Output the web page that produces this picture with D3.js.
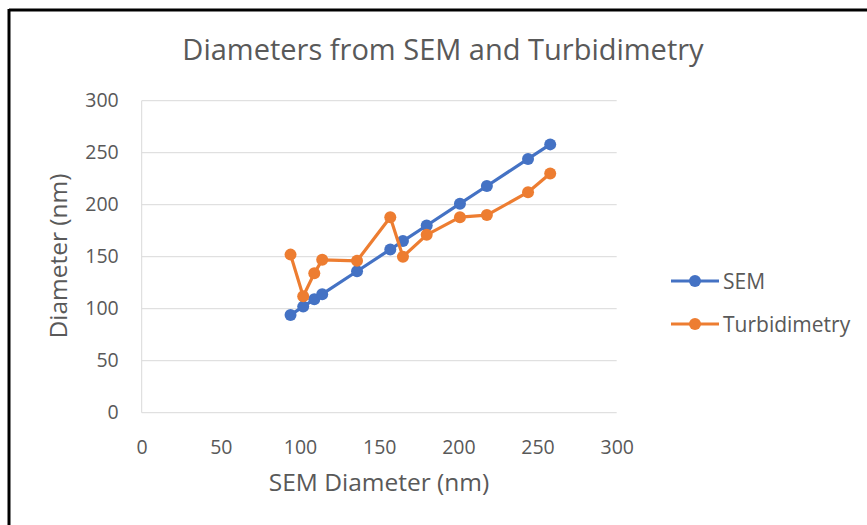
<!DOCTYPE html>
<html>
<head>
<meta charset="utf-8">
<script src="https://cdn.jsdelivr.net/npm/d3@7"></script>
<style>
  html, body { margin: 0; padding: 0; background: #fff; }
  svg { display: block; font-family: "Open Sans", Lato, sans-serif; }
</style>
</head>
<body>
<svg id="chart" width="867" height="525"></svg>
<script>
// SEM diameter (x) with the two measured diameters (nm)
const semX = [94, 102, 109, 114, 136, 157, 165, 180, 201, 218, 244, 258];
const semY = [94, 102, 109, 114, 136, 157, 165, 180, 201, 218, 244, 258];
const turbY = [152, 112, 134, 147, 146, 188, 150, 171, 188, 190, 212, 230];
const tickValues = [0, 50, 100, 150, 200, 250, 300];
const seriesNames = ["SEM", "Turbidimetry"];
const seriesColors = ["#4472C4", "#ED7D31"];

(function () {
  const svg = d3.select("#chart");
  const textColor = "#595959";
  const font = "'Open Sans', Lato, sans-serif";

  // frame edges
  svg.append("line").attr("x1", 9).attr("x2", 867).attr("y1", 10).attr("y2", 10)
    .attr("stroke", "#000").attr("stroke-width", 3);
  svg.append("line").attr("x1", 9).attr("x2", 9).attr("y1", 9).attr("y2", 525)
    .attr("stroke", "#000").attr("stroke-width", 3);

  const pLeft = 141.7, pRight = 616.7, pTop = 100.7, pBottom = 412.7;
  const x = d3.scaleLinear().domain([0, 300]).range([pLeft, pRight]);
  const y = d3.scaleLinear().domain([0, 300]).range([pBottom, pTop]);

  // horizontal gridlines
  svg.append("g").selectAll("line").data(tickValues.filter(v => v > 0)).join("line")
    .attr("x1", pLeft).attr("x2", pRight)
    .attr("y1", d => y(d)).attr("y2", d => y(d))
    .attr("stroke", "#d9d9d9").attr("stroke-width", 1);

  // axis lines
  svg.append("line").attr("x1", pLeft).attr("x2", pRight).attr("y1", y(0)).attr("y2", y(0))
    .attr("stroke", "#d9d9d9").attr("stroke-width", 1);
  svg.append("line").attr("x1", x(0)).attr("x2", x(0)).attr("y1", y(0)).attr("y2", y(300))
    .attr("stroke", "#d9d9d9").attr("stroke-width", 1);

  // tick labels
  const yAxis = d3.axisLeft(y).tickValues(tickValues).tickSize(0).tickPadding(23);
  const gy = svg.append("g").attr("transform", `translate(${pLeft},0)`).call(yAxis);
  gy.select(".domain").remove();
  gy.selectAll("text").attr("fill", textColor).attr("font-size", 19.5)
    .attr("font-family", font);

  const xAxis = d3.axisBottom(x).tickValues(tickValues).tickSize(0).tickPadding(0);
  const gx = svg.append("g").attr("transform", `translate(0,${pBottom})`).call(xAxis);
  gx.select(".domain").remove();
  gx.selectAll("text").attr("fill", textColor).attr("font-size", 19.5)
    .attr("font-family", font).attr("dy", null).attr("y", 41);

  // titles
  svg.append("text").attr("x", 443).attr("y", 60).attr("text-anchor", "middle")
    .attr("fill", textColor).attr("font-size", 29).text("Diameters from SEM and Turbidimetry");
  svg.append("text").attr("x", 379).attr("y", 491).attr("text-anchor", "middle")
    .attr("fill", textColor).attr("font-size", 24.5).text("SEM Diameter (nm)");
  svg.append("text").attr("transform", "translate(67,256) rotate(-90)").attr("text-anchor", "middle")
    .attr("fill", textColor).attr("font-size", 24.5).text("Diameter (nm)");

  // series
  const series = [
    { name: seriesNames[0], color: seriesColors[0], pts: semX.map((v, i) => [v, semY[i]]) },
    { name: seriesNames[1], color: seriesColors[1], pts: semX.map((v, i) => [v, turbY[i]]) }
  ];
  const line = d3.line().x(d => x(d[0])).y(d => y(d[1]));

  series.forEach(s => {
    const g = svg.append("g");
    g.append("path").attr("d", line(s.pts)).attr("fill", "none")
      .attr("stroke", s.color).attr("stroke-width", 3.2).attr("stroke-linejoin", "round");
    g.selectAll("circle").data(s.pts).join("circle")
      .attr("cx", d => x(d[0])).attr("cy", d => y(d[1])).attr("r", 6)
      .attr("fill", s.color);
  });

  // legend
  const legend = svg.append("g");
  series.forEach((s, i) => {
    const ly = 281 + i * 43;
    legend.append("line").attr("x1", 671).attr("x2", 719).attr("y1", ly).attr("y2", ly)
      .attr("stroke", s.color).attr("stroke-width", 3.2);
    legend.append("circle").attr("cx", 695).attr("cy", ly).attr("r", 6).attr("fill", s.color);
    legend.append("text").attr("x", 723).attr("y", ly + 7.5)
      .attr("fill", textColor).attr("font-size", 21).text(s.name);
  });
})();
</script>
</body>
</html>
